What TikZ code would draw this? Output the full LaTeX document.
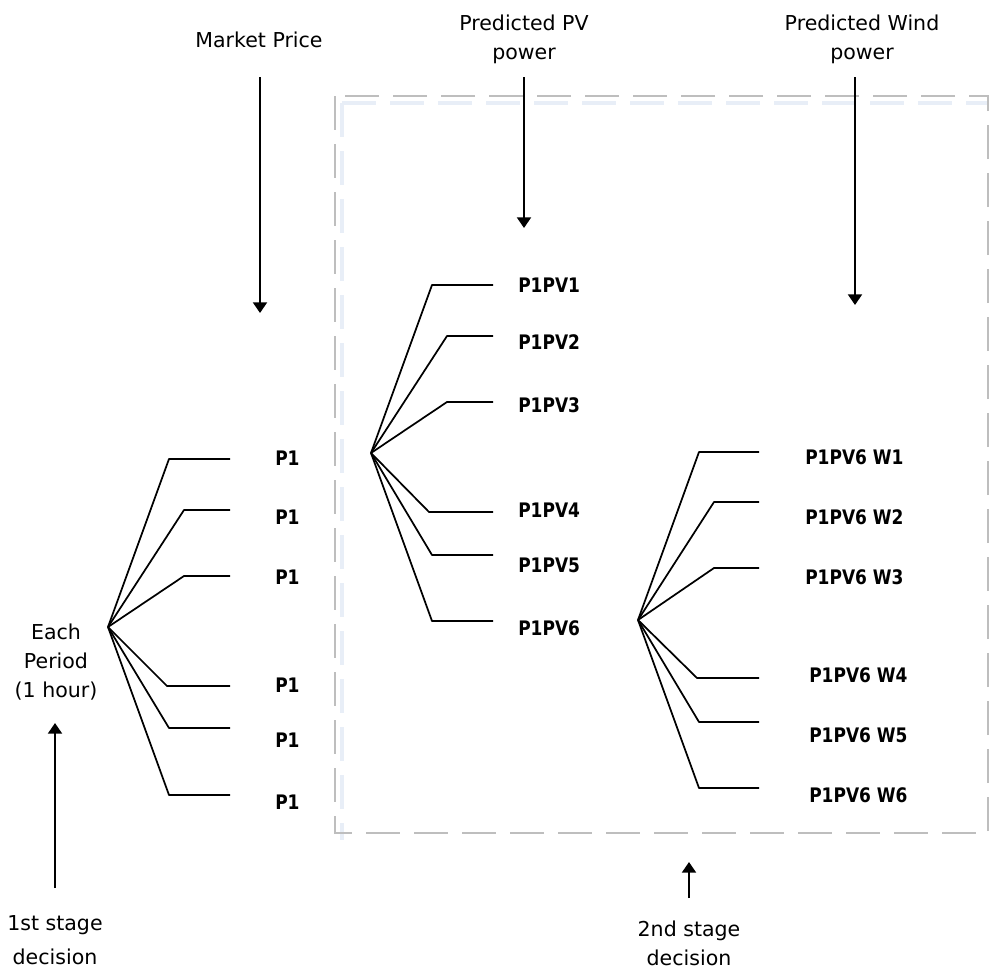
\documentclass[tikz,border=0pt]{standalone}
\usepackage{fontspec}
\setmainfont{DejaVu Sans}
\newfontfamily\labfont[FakeStretch=0.85]{DejaVu Sans Bold}
\usetikzlibrary{arrows.meta}
\definecolor{boxgray}{RGB}{190,190,190}
\definecolor{shadowc}{RGB}{232,238,247}
\tikzset{
  txt/.style={font=\fontsize{15.4}{21.5}\selectfont, align=center, inner sep=0pt},
  lab/.style={font=\labfont\fontsize{15}{18}\selectfont, anchor=west, inner sep=0pt},
  branch/.style={line width=1.3pt, line join=round},
  inarrow/.style={line width=1.5pt, -{Triangle[width=10.5pt,length=8pt]}},
  boxline/.style={boxgray, line width=1.5pt, dash pattern=on 25.5pt off 10.5pt},
  shadowline/.style={shadowc, line width=3pt, dash pattern=on 25.5pt off 10.5pt}
}
\begin{document}
\begin{tikzpicture}[x=0.75pt,y=-0.75pt]
\useasboundingbox (0,0) rectangle (989,976);
% dashed box with soft shadow
\draw[shadowline] (342,103) -- (995,103);
\draw[shadowline] (342,103) -- (342,840);
\draw[boxline] (335,96) rectangle (988,833);

% top labels and arrows
\node[txt] (mp) at (259,40) {Market Price};
\node[txt] (pv) at (524,39) {Predicted PV\\power};
\node[txt] (wd) at (862,39) {Predicted Wind\\power};
\coordinate (mpa) at (260,77);
\coordinate (mpb) at (260,313);
\coordinate (pva) at (524,77);
\coordinate (pvb) at (524,228);
\coordinate (wda) at (855,77);
\coordinate (wdb) at (855,305);
\draw[inarrow] (mpa) -- (mpb);
\draw[inarrow] (pva) -- (pvb);
\draw[inarrow] (wda) -- (wdb);

% left tree
\node[txt] (ep) at (56,662) {Each\\Period\\(1 hour)};
\coordinate (r0) at (108,627);
\foreach \i/\ex/\ey/\ly in {1/169/459/458, 2/184/510/517, 3/184/576/577, 4/167/686/685, 5/169/728/740, 6/169/795/802}{
  \coordinate (le\i) at (\ex,\ey);
  \coordinate (lt\i) at (230,\ey);
  \draw[branch] (r0) -- (le\i) -- (lt\i);
  \node[lab] (lp\i) at (275,\ly) {P1};
}

% middle tree
\coordinate (r1) at (371,453);
\foreach \i/\ex/\ey/\ly in {1/432/285/285, 2/447/336/342, 3/447/402/405, 4/429/512/510, 5/432/555/565, 6/432/621/628}{
  \coordinate (me\i) at (\ex,\ey);
  \coordinate (mt\i) at (493,\ey);
  \draw[branch] (r1) -- (me\i) -- (mt\i);
  \node[lab] (mp\i) at (518,\ly) {P1PV\i};
}

% right tree
\coordinate (r2) at (638,620);
\foreach \i/\ex/\ey/\lx/\ly in {1/699/452/805/457, 2/714/502/805/517, 3/714/568/805/577, 4/697/678/809/675, 5/699/722/809/735, 6/699/788/809/795}{
  \coordinate (re\i) at (\ex,\ey);
  \coordinate (rt\i) at (759,\ey);
  \draw[branch] (r2) -- (re\i) -- (rt\i);
  \node[lab] (rp\i) at (\lx,\ly) {P1PV6 W\i};
}

% bottom arrows and labels
\coordinate (s1a) at (55,888);
\coordinate (s1b) at (55,723);
\draw[inarrow] (s1a) -- (s1b);
\node[txt] (s1) at (55,940) {1st stage\\[4pt]decision};
\coordinate (s2a) at (689,898);
\coordinate (s2b) at (689,862);
\draw[inarrow] (s2a) -- (s2b);
\node[txt] (s2) at (689,943) {2nd stage\\decision};
\end{tikzpicture}
\end{document}
